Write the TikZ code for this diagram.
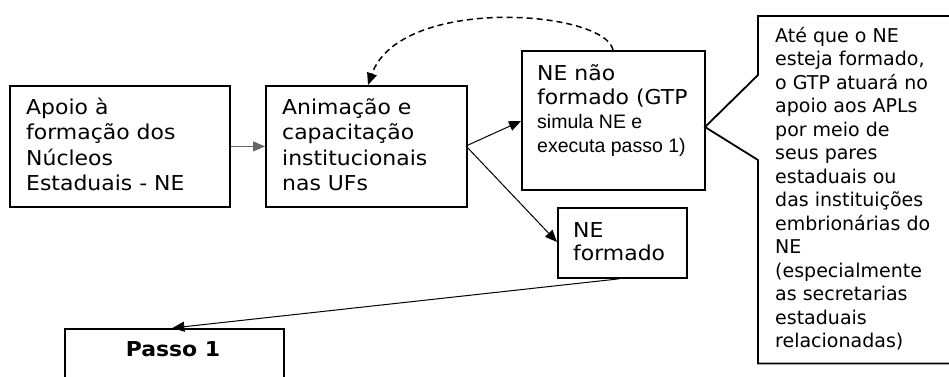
\documentclass[tikz,border=0pt]{standalone}
\usepackage{fontspec}
\setmainfont{DejaVu Sans}
\newfontfamily\boxfont[FakeStretch=1.07]{DejaVu Sans}
\newfontfamily\narrowfont{Liberation Sans}
\usetikzlibrary{arrows.meta}
\tikzset{
  box/.style={draw=black, line width=1.8pt, inner sep=0pt, anchor=north west},
  txt/.style={inner sep=0pt, anchor=base west, align=left, font=\boxfont\fontsize{20.5}{25.5}\selectfont},
  ctxt/.style={inner sep=0pt, anchor=base west, align=left, font=\fontsize{19}{23.5}\selectfont},
  arr/.style={line width=1pt, -{Triangle[length=12pt,width=10pt]}},
}
\begin{document}
\begin{tikzpicture}[x=1pt,y=-1pt]
\useasboundingbox (0,0) rectangle (949,376);
% boxes
\node[box, minimum width=220pt, minimum height=121pt] (b1) at (9,85) {};
\node[box, minimum width=201pt, minimum height=121pt] (b2) at (265,85) {};
\node[box, minimum width=183pt, minimum height=139pt] (b3) at (521,50) {};
\node[box, minimum width=129pt, minimum height=70pt] (b4) at (557,207) {};
\node[box, minimum width=219pt, minimum height=80pt] (b5) at (64,328) {};
% callout
\node[inner sep=0pt, anchor=north west, minimum width=210pt, minimum height=347pt] (c) at (758,16) {};
\coordinate (tip) at (705,127);
\draw[line width=1.8pt] (c.north east) -- (c.north west) -- ([yshift=-59pt]c.north west) -- (tip)
  -- ([yshift=-144pt]c.north west) -- (c.south west) -- (c.south east);
% texts (anchored at the baseline of the last line)
\node[txt] (t1) at (26,190.5) {Apoio à\\formação dos\\Núcleos\\Estaduais - NE};
\node[txt] (t2) at (282,190.5) {Animação e\\capacitação\\institucionais\\nas UFs};
\node[txt, font=\boxfont\fontsize{20.5}{24}\selectfont] (t3) at (537,152) {NE não\\formado (GTP\\{\narrowfont\fontsize{19.5}{24}\selectfont simula NE e}\\{\narrowfont\fontsize{19.5}{24}\selectfont executa passo 1)}};
\node[txt, font=\boxfont\fontsize{20.5}{23.5}\selectfont] (t4) at (573,260.5) {NE\\formado};
\node[inner sep=0pt, anchor=base, font=\boxfont\fontsize{20.5}{24}\selectfont\bfseries] (t5) at (173,356) {Passo 1};
\node[ctxt] (tc) at (775,347.5) {Até que o NE\\esteja formado,\\o GTP atuará no\\apoio aos APLs\\por meio de\\seus pares\\estaduais ou\\das instituições\\embrionárias do\\NE\\(especialmente\\as secretarias\\estaduais\\relacionadas)};
% connectors
\draw[arr, draw=black!60, fill=black] (b1.east) -- (b2.east -| b2.west);
\coordinate (s2) at (466,146);
\draw[arr] (s2) -- (521,121);
\draw[arr] (s2) -- (557,242);
\draw[arr] ([xshift=-3pt]b4.south) -- ([xshift=-2pt]b5.north);
\draw[arr, dash pattern=on 6pt off 4pt, line width=1.5pt] (613,50) .. controls (605,10) and (400,-5) .. (368,85);
\end{tikzpicture}
\end{document}
